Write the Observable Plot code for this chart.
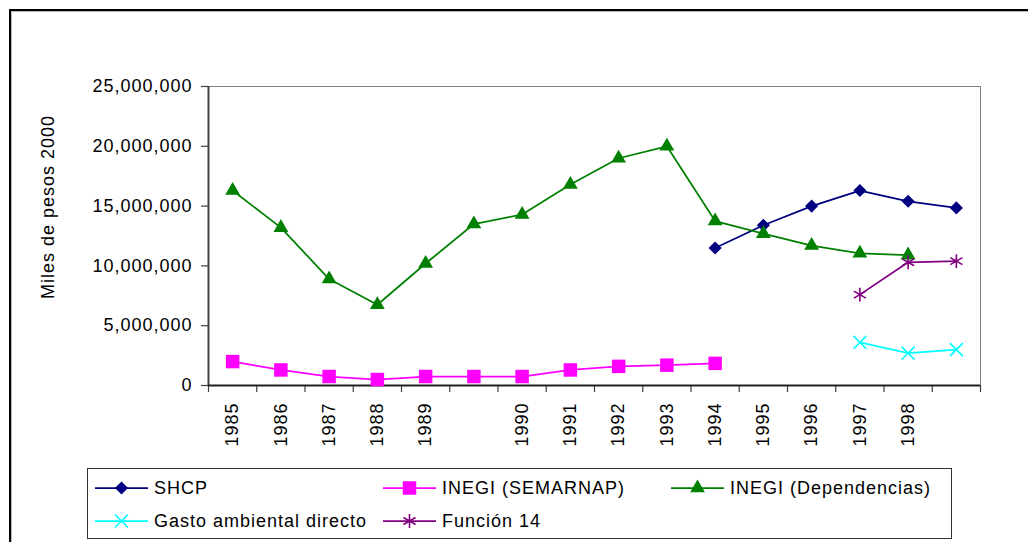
<!DOCTYPE html>
<html>
<head>
<meta charset="utf-8">
<script src="https://cdn.jsdelivr.net/npm/d3@7"></script>
<script src="https://cdn.jsdelivr.net/npm/@observablehq/plot@0.6"></script>
<style>
  html, body { margin: 0; padding: 0; background: #fff; }
  body { width: 1028px; height: 542px; overflow: hidden; position: relative; font-family: Arial, "Liberation Sans", sans-serif; }
  #outer { position: absolute; left: 9px; top: 9px; width: 1030px; height: 540px; border-top: 2px solid #000; border-left: 2px solid #000; box-shadow: inset 1px 1px 0 #bbb; pointer-events: none; }
  #chart { position: absolute; left: 0; top: 0; }
  #legend { position: absolute; left: 87px; top: 468px; width: 865px; height: 71px; border: 1px solid #333; box-sizing: border-box; background: #fff; }
  .item { position: absolute; display: flex; align-items: center; height: 22px; font-size: 18px; letter-spacing: 1px; color: #000; white-space: nowrap; }
  .item svg { margin-right: 6px; }
</style>
</head>
<body>
<div id="chart"></div>
<div id="legend"></div>
<div id="outer"></div>
<script>
// ---- data ----
const labels = ["1985","1986","1987","1988","1989","","1990","1991","1992","1993","1994","1995","1996","1997","1998",""];
const shcp         = [null,null,null,null,null,null,null,null,null,null,11.5e6,13.4e6,15.0e6,16.3e6,15.4e6,14.85e6];
const semarnap     = [2.0e6,1.3e6,0.75e6,0.5e6,0.75e6,0.75e6,0.75e6,1.3e6,1.6e6,1.7e6,1.85e6,null,null,null,null,null];
const dependencias = [16.3e6,13.2e6,8.9e6,6.75e6,10.2e6,13.5e6,14.3e6,16.8e6,19.0e6,20.0e6,13.75e6,12.7e6,11.7e6,11.05e6,10.9e6,null];
const gasto        = [null,null,null,null,null,null,null,null,null,null,null,null,null,3.6e6,2.7e6,3.0e6];
const funcion14    = [null,null,null,null,null,null,null,null,null,null,null,null,null,7.6e6,10.3e6,10.4e6];
const yTicks = [0, 5e6, 10e6, 15e6, 20e6, 25e6];
const yLabel = "Miles de pesos 2000";

const series = [
  {name: "SHCP", values: shcp, color: "#000080", symbol: "diamond2", r: 5.9, filled: true},
  {name: "INEGI (SEMARNAP)", values: semarnap, color: "#FF00FF", symbol: "square", r: 7.6, filled: true},
  {name: "INEGI (Dependencias)", values: dependencias, color: "#008000", symbol: "triangle", r: 5.5, filled: true},
  {name: "Gasto ambiental directo", values: gasto, color: "#00FFFF", symbol: "times", r: 6, filled: false},
  {name: "Función 14", values: funcion14, color: "#800080", symbol: "asterisk", r: 6.6, filled: false}
];

const idx = labels.map((_, i) => i);
const boundaries = [...idx.map(i => i - 0.5), labels.length - 0.5];
const xDomain = [-0.5, labels.length - 0.5];

const marks = [
  Plot.frame({stroke: "#808080", strokeWidth: 1}),
  Plot.axisY({ticks: yTicks, tickFormat: d3.format(","), tickSize: 7, tickPadding: 9, stroke: "#404040", strokeWidth: 1.2, label: null}),
  Plot.axisX({ticks: boundaries, tickFormat: () => "", tickSize: 7, stroke: "#404040", strokeWidth: 1.2, label: null}),
  Plot.axisX({ticks: idx, tickFormat: i => labels[i], tickSize: 0, tickPadding: 17, tickRotate: -90, label: null}),
  Plot.ruleX([xDomain[0]], {stroke: "#404040", strokeWidth: 2}),
  Plot.ruleY([0], {stroke: "#202020", strokeWidth: 2}),
  Plot.text([yLabel], {frameAnchor: "left", textAnchor: "middle", rotate: -90, dx: -160, dy: -29, fontSize: 18, fill: "#000"})
];

for (const s of series) {
  const rows = s.values.map((v, i) => ({i, v})).filter(d => d.v != null);
  marks.push(Plot.line(rows, {x: "i", y: "v", stroke: s.color, strokeWidth: 1.75}));
  marks.push(Plot.dot(rows, s.filled
    ? {x: "i", y: "v", symbol: s.symbol, r: s.r, fill: s.color, stroke: "none"}
    : {x: "i", y: "v", symbol: s.symbol, r: s.r, fill: "none", stroke: s.color, strokeWidth: 1.6}));
}

const chart = Plot.plot({
  width: 1028,
  height: 460,
  marginLeft: 208,
  marginRight: 48,
  marginTop: 86,
  marginBottom: 75,
  style: {fontFamily: "Arial, 'Liberation Sans', sans-serif", fontSize: "18px", letterSpacing: "1px", color: "#000", background: "transparent"},
  x: {type: "linear", domain: xDomain, axis: null, label: null},
  y: {domain: [0, 25e6], axis: null, label: null},
  marks
});
document.getElementById("chart").appendChild(chart);

// ---- legend ----
const legend = d3.select("#legend");
const pos = [[7, 8], [295, 8], [583, 8], [7, 41], [295, 41]];
series.forEach((s, k) => {
  const item = legend.append("div").attr("class", "item")
    .style("left", pos[k][0] + "px").style("top", pos[k][1] + "px");
  const svg = item.append("svg").attr("width", 53).attr("height", 22);
  svg.append("line").attr("x1", 0).attr("x2", 53).attr("y1", 11).attr("y2", 11)
    .attr("stroke", s.color).attr("stroke-width", 1.75);
  const sym = {diamond2: d3.symbolDiamond2, square: d3.symbolSquare, triangle: d3.symbolTriangle, times: d3.symbolTimes, asterisk: d3.symbolAsterisk}[s.symbol];
  const p = svg.append("path").attr("transform", "translate(26.5,11)")
    .attr("d", d3.symbol(sym, Math.PI * s.r * s.r)());
  if (s.filled) p.attr("fill", s.color); else p.attr("fill", "none").attr("stroke", s.color).attr("stroke-width", 1.6);
  item.append("span").text(s.name);
});
</script>
</body>
</html>
